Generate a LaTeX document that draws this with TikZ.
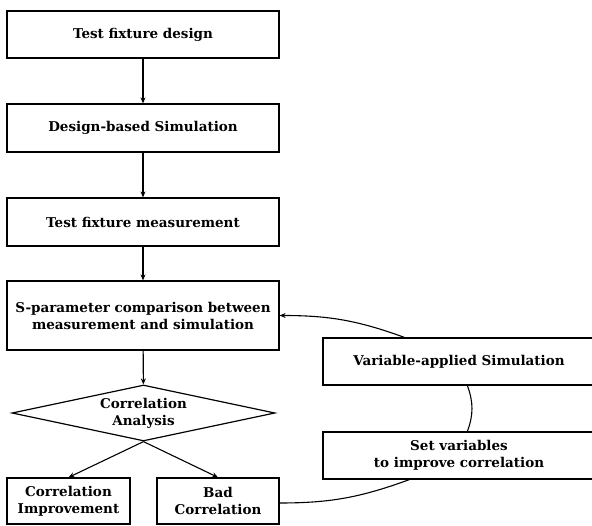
\documentclass[tikz,border=0pt]{standalone}
\usepackage{fontspec}
\setmainfont{DejaVu Serif}
\usetikzlibrary{shapes.geometric,arrows.meta,calc}
\begin{document}
\begin{tikzpicture}[x=1pt,y=-1pt,
  txt/.style={font=\fontsize{13.5}{17}\selectfont\bfseries},
  box/.style={draw,line width=1.2pt,minimum width=272pt,minimum height=47pt,inner sep=0pt,align=center,txt},
  sbox/.style={box,minimum width=123pt,minimum height=46pt},
  dec/.style={draw,line width=1.2pt,shape=diamond,shape aspect=4.7,minimum width=263pt,minimum height=56pt,inner sep=0pt,align=center,txt},
  arr/.style={line width=1.1pt,-{Stealth[length=6pt,width=5pt]}},
  ln/.style={line width=1.1pt}]
\useasboundingbox (0,0) rectangle (592,526);
\node[box] (b1) at (143,34.5) {Test fixture design};
\node[box,minimum height=48pt] (b2) at (143,128) {Design-based Simulation};
\node[box,minimum height=48pt] (b3) at (143,222) {Test fixture measurement};
\node[box,minimum height=69pt] (b4) at (143,315.5) {S-parameter comparison between\\measurement and simulation};
\node[dec] (d) at (143.5,413) {Correlation\\Analysis};
\node[sbox] (ci) at (68.5,501) {Correlation\\Improvement};
\node[sbox,minimum width=122pt] (bc) at (218,501) {Bad\\Correlation};
\node[box] (va) at (459,361.5) {Variable-applied Simulation};
\node[box] (sv) at (459,455.5) {Set variables\\to improve correlation};
\coordinate (vaN) at ($(va.north west)+(82,0)$);
\coordinate (vaS) at ($(va.south west)+(145,0)$);
\coordinate (svN) at ($(sv.north west)+(145,0)$);
\coordinate (svS) at ($(sv.south west)+(87,0)$);
\draw[arr] (b1) -- (b2);
\draw[arr] (b2) -- (b3);
\draw[arr] (b3) -- (b4);
\draw[arr] (b4) -- (d);
\draw[arr] (d.south) -- (ci.north);
\draw[arr] (d.south) -- (bc.north);
\draw[arr] (vaN) to[out=160,in=0] (b4.east);
\draw[ln] (vaS) to[bend left=20] (svN);
\draw[ln] (svS) to[out=-160,in=0] ($(bc.east)+(0,2)$);
\end{tikzpicture}
\end{document}
